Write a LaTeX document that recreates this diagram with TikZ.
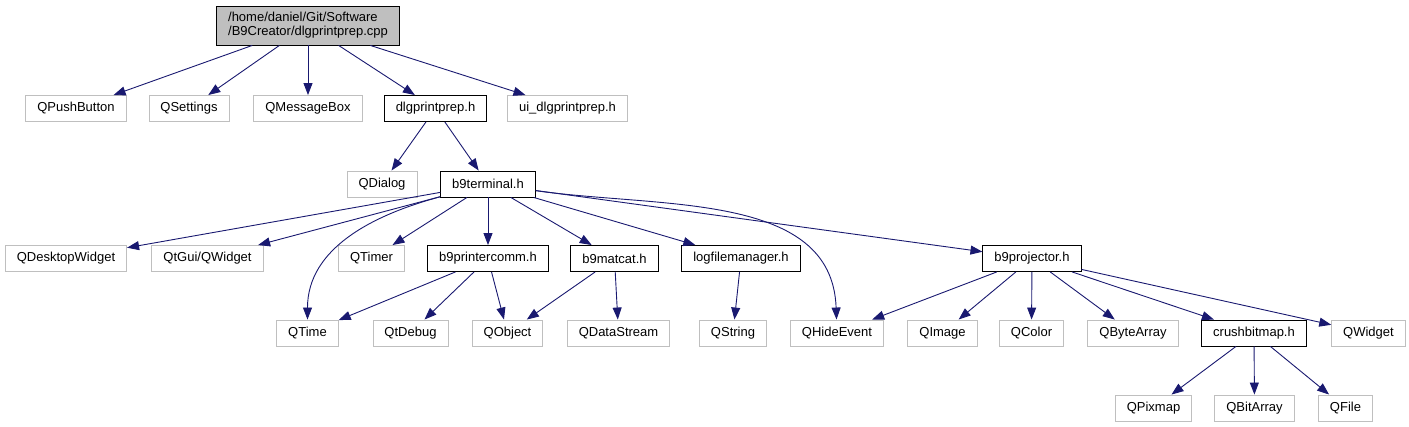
\documentclass[tikz,border=0pt]{standalone}
\usepackage{fontspec}
\setmainfont{Liberation Sans}
\usepackage{xcolor}
\usepackage{tikz}
\usetikzlibrary{arrows.meta}
\definecolor{edgeblue}{RGB}{25, 25, 112}
\definecolor{extgray}{RGB}{191, 191, 191}

\tikzset{
    incbox/.style={draw, line width=0.9pt, inner xsep=11.5pt, inner ysep=0pt,
                   minimum height=26pt, font=\fontsize{13}{14}\selectfont},
    extbox/.style={incbox, draw=extgray},
    projbox/.style={incbox, draw=black},
    rootbox/.style={incbox, draw=black, fill=extgray, align=left, minimum height=39pt},
    dep/.style={draw=edgeblue, line width=0.9pt, -{Triangle[length=12pt, width=9pt]}}
}

\begin{document}
\begin{tikzpicture}[x=1pt, y=1pt]
    \useasboundingbox (0,0) rectangle (1409,427);

    % source file
    \node[rootbox] (root) at (308,401.5) {/home/daniel/Git/Software\\/B9Creator/dlgprintprep.cpp};

    % direct includes
    \node[extbox] (qpushbutton) at (76,318.5) {QPushButton};
    \node[extbox] (qsettings) at (189,318.5) {QSettings};
    \node[extbox] (qmessagebox) at (308,318.5) {QMessageBox};
    \node[projbox] (dlgprintprep) at (435.5,318.5) {dlgprintprep.h};
    \node[extbox] (uidlgprintprep) at (567.5,318.5) {ui\_dlgprintprep.h};

    \node[extbox] (qdialog) at (382,243) {QDialog};
    \node[projbox] (b9terminal) at (488,243) {b9terminal.h};

    % b9terminal.h includes
    \node[extbox] (qdesktopwidget) at (66,168.5) {QDesktopWidget};
    \node[extbox] (qtguiwidget) at (207.5,168.5) {QtGui/QWidget};
    \node[extbox] (qtimer) at (371.5,168.5) {QTimer};
    \node[projbox] (b9printercomm) at (488,168.5) {b9printercomm.h};
    \node[projbox] (b9matcat) at (614.5,168.5) {b9matcat.h};
    \node[projbox] (logfilemanager) at (741,168.5) {logfilemanager.h};
    \node[projbox] (b9projector) at (1032,168.5) {b9projector.h};

    % leaves
    \node[extbox] (qtime) at (307.5,94) {QTime};
    \node[extbox] (qtdebug) at (410.5,94) {QtDebug};
    \node[extbox] (qobject) at (507.5,94) {QObject};
    \node[extbox] (qdatastream) at (618.5,94) {QDataStream};
    \node[extbox] (qstring) at (733,94) {QString};
    \node[extbox] (qhideevent) at (837,94) {QHideEvent};
    \node[extbox] (qimage) at (942.5,94) {QImage};
    \node[extbox] (qcolor) at (1031.5,94) {QColor};
    \node[extbox] (qbytearray) at (1133,94) {QByteArray};
    \node[projbox] (crushbitmap) at (1254,94) {crushbitmap.h};
    \node[extbox] (qwidget) at (1368.5,94) {QWidget};

    \node[extbox] (qpixmap) at (1153.5,19) {QPixmap};
    \node[extbox] (qbitarray) at (1254.5,19) {QBitArray};
    \node[extbox] (qfile) at (1345.5,19) {QFile};

    % edges
    \draw[dep] (root) -- (qpushbutton);
    \draw[dep] (root) -- (qsettings);
    \draw[dep] (root) -- (qmessagebox);
    \draw[dep] (root) -- (dlgprintprep);
    \draw[dep] (root) -- (uidlgprintprep);

    \draw[dep] (dlgprintprep) -- (qdialog);
    \draw[dep] (dlgprintprep) -- (b9terminal);

    \draw[dep] (b9terminal) -- (qdesktopwidget);
    \draw[dep] (b9terminal) -- (qtguiwidget);
    \draw[dep] (b9terminal) to[out=195, in=90] (qtime);
    \draw[dep] (b9terminal) -- (qtimer);
    \draw[dep] (b9terminal) -- (b9printercomm);
    \draw[dep] (b9terminal) -- (b9matcat);
    \draw[dep] (b9terminal) -- (logfilemanager);
    \draw[dep] (b9terminal) to[out=-8, in=92] (qhideevent);
    \draw[dep] (b9terminal) -- (b9projector);

    \draw[dep] (b9printercomm) -- (qtime);
    \draw[dep] (b9printercomm) -- (qtdebug);
    \draw[dep] (b9printercomm) -- (qobject);
    \draw[dep] (b9matcat) -- (qobject);
    \draw[dep] (b9matcat) -- (qdatastream);
    \draw[dep] (logfilemanager) -- (qstring);

    \draw[dep] (b9projector) -- (qhideevent);
    \draw[dep] (b9projector) -- (qimage);
    \draw[dep] (b9projector) -- (qcolor);
    \draw[dep] (b9projector) -- (qbytearray);
    \draw[dep] (b9projector) -- (crushbitmap);
    \draw[dep] (b9projector) -- (qwidget);

    \draw[dep] (crushbitmap) -- (qpixmap);
    \draw[dep] (crushbitmap) -- (qbitarray);
    \draw[dep] (crushbitmap) -- (qfile);
\end{tikzpicture}
\end{document}
